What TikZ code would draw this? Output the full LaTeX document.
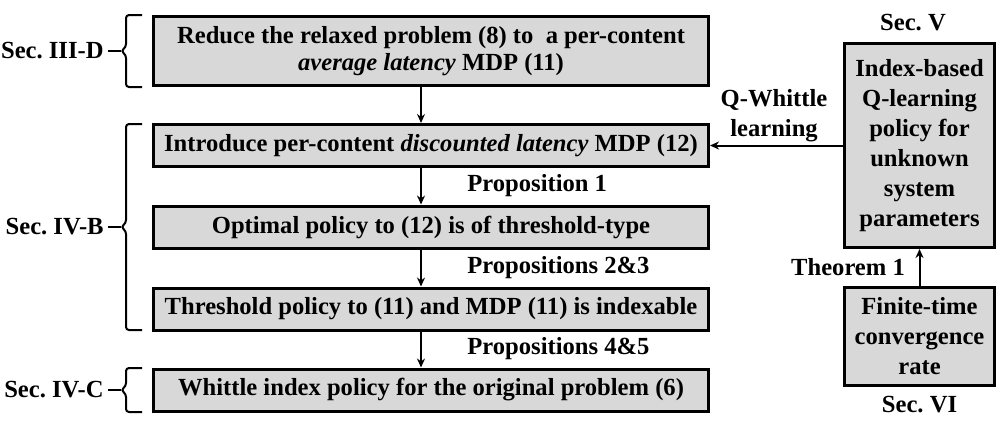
\documentclass[tikz,border=0pt]{standalone}
\usepackage{fontspec}
\setmainfont{Liberation Serif}
\usetikzlibrary{arrows.meta}
\definecolor{boxgray}{RGB}{216,216,216}
\frenchspacing
\begin{document}
\begin{tikzpicture}[x=0.5pt,y=-0.5pt,
  font=\fontsize{12.3}{15}\selectfont\bfseries,
  stepbox/.style={draw=black,line width=1.5pt,fill=boxgray,inner sep=0pt,align=center},
  lbox/.style={stepbox,minimum width=277.5pt,minimum height=21pt},
  arr/.style={line width=1pt,-{Stealth[length=4.5pt,width=4pt]}},
  bracepath/.style={line width=1pt,rounded corners=1.5pt},
  lbl/.style={inner sep=0pt,align=center}]
\useasboundingbox (0,0) rectangle (1005,424);
% left boxes
\node[stepbox,minimum width=277.5pt,minimum height=34.5pt,font=\fontsize{12.3}{13.6}\selectfont\bfseries] (b1) at (431,51)
  {Reduce the relaxed problem (8) to\ \ a per-content\\ \textit{average latency} MDP (11)};
\node[lbox] (b2) at (431,145.5) {Introduce per-content \textit{discounted latency} MDP (12)};
\node[lbox] (b3) at (431,227) {Optimal policy to (12) is of threshold-type};
\node[lbox] (b4) at (431,309) {Threshold policy to (11) and MDP (11) is indexable};
\node[lbox] (b5) at (431,390) {Whittle index policy for the original problem (6)};
% right boxes
\node[stepbox,minimum width=75pt,minimum height=102pt] (rb) at (919.5,145.5)
  {Index-based\\Q-learning\\policy for\\unknown\\system\\parameters};
\node[stepbox,minimum width=75pt,minimum height=49pt] (bb) at (919.5,336.5)
  {Finite-time\\convergence\\rate};
% arrows
\coordinate (ax) at (421,0);
\draw[arr] (b1.south -| ax) -- (b2.north -| ax);
\draw[arr] (b2.south -| ax) -- (b3.north -| ax);
\draw[arr] (b3.south -| ax) -- (b4.north -| ax);
\draw[arr] (b4.south -| ax) -- (b5.north -| ax);
\draw[arr] (rb.west |- b2.east) -- (b2.east);
\draw[arr] (bb.north) -- (rb.south);
% arrow labels
\node[lbl,anchor=west] (p1) at (467,186) {Proposition 1};
\node[lbl,anchor=west] (p23) at (467,268) {Propositions 2\&3};
\node[lbl,anchor=west] (p45) at (467,349) {Propositions 4\&5};
\node[lbl] (qw) at (774,116) {Q-Whittle\\learning};
\node[lbl] (th) at (848,267) {Theorem 1};
\node[lbl] (s5) at (913,23) {Sec. V};
\node[lbl] (s6) at (919.5,405) {Sec. VI};
% section labels and braces
\node[lbl,anchor=east] (s3d) at (104,51) {Sec. III-D};
\node[lbl,anchor=east] (s4b) at (104,227) {Sec. IV-B};
\node[lbl,anchor=east] (s4c) at (104,390) {Sec. IV-C};
\draw[bracepath] (142,15) -- (126,15) -- (126,47) -- (121,51) -- (126,55) -- (126,87) -- (142,87);
\draw[line width=1pt] (s3d.east) ++(4,0) -- (121,51);
\draw[bracepath] (142,124) -- (126,124) -- (126,223) -- (121,227) -- (126,231) -- (126,330) -- (142,330);
\draw[line width=1pt] (s4b.east) ++(4,0) -- (121,227);
\draw[bracepath] (142,368) -- (126,368) -- (126,386) -- (121,390) -- (126,394) -- (126,412) -- (142,412);
\draw[line width=1pt] (s4c.east) ++(4,0) -- (121,390);
\end{tikzpicture}
\end{document}
